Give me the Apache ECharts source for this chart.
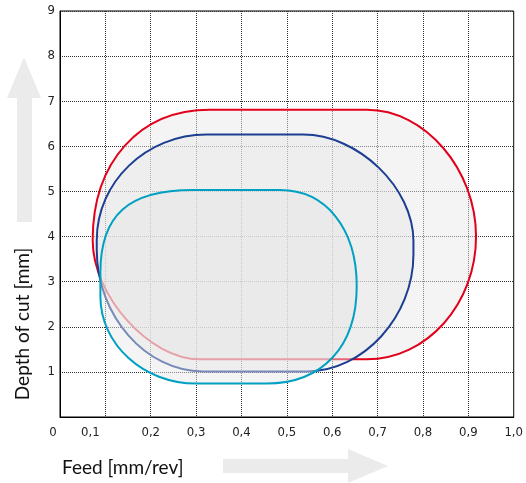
<!DOCTYPE html>
<html>
<head>
<meta charset="utf-8">
<script src="https://cdn.jsdelivr.net/npm/echarts@6/dist/echarts.min.js"></script>
<style>
  html, body { margin: 0; padding: 0; background: #fff; }
  #chart { width: 526px; height: 483px; }
</style>
</head>
<body>
<div id="chart"></div>
<script>
// tick labels
var xTickLabels = ['0', '0,1', '0,2', '0,3', '0,4', '0,5', '0,6', '0,7', '0,8', '0,9', '1,0'];
var yTickLabels = ['', '1', '2', '3', '4', '5', '6', '7', '8', '9'];

// working areas (red, blue, cyan)
// feed limits [mm/rev]
var feedMin = [0.072, 0.081, 0.089];
var feedMax = [0.917, 0.779, 0.654];
// depth of cut limits [mm]
var depthMin = [1.28, 1.01, 0.74];
var depthMax = [6.81, 6.26, 5.03];
// feed range where the top / bottom edge is flat
var topFlat = [[0.33, 0.677], [0.323, 0.536], [0.293, 0.485]];
var bottomFlat = [[0.308, 0.676], [0.315, 0.544], [0.30, 0.455]];
// depth range where the left / right edge is straight
var leftStraight = [[3.92, 3.92], [3.7, 3.92], [2.67, 3.2]];
var rightStraight = [[4.0, 4.0], [3.6, 3.9], [2.9, 2.9]];
// corner roundness: top-left, top-right, bottom-right, bottom-left
var cornerK = [[0.6, 0.53, 0.55, 0.47], [0.55, 0.5, 0.53, 0.54], [0.7, 0.6, 0.62, 0.55]];

var lineColors = ['#e3001b', '#1d3f92', '#00a0c3'];
var fillColor = 'rgba(230,230,230,0.45)';

function areaSeries(i) {
  return {
    type: 'custom',
    coordinateSystem: 'cartesian2d',
    silent: true,
    data: [[feedMin[i], depthMin[i]]],
    renderItem: function(params, api) {
      var L = feedMin[i], R = feedMax[i], B = depthMin[i], T = depthMax[i];
      var a = topFlat[i][0], b = topFlat[i][1], c = bottomFlat[i][0], d = bottomFlat[i][1];
      var lb = leftStraight[i][0], lt = leftStraight[i][1];
      var rb = rightStraight[i][0], rt = rightStraight[i][1];
      var k = cornerK[i];
      function P(x, y) { var p = api.coord([x, y]); return p[0].toFixed(2) + ' ' + p[1].toFixed(2); }
      var path = 'M' + P(a, T) + ' L' + P(b, T) +
        ' C' + P(b + k[1] * (R - b), T) + ' ' + P(R, rt + k[1] * (T - rt)) + ' ' + P(R, rt) +
        ' L' + P(R, rb) +
        ' C' + P(R, rb - k[2] * (rb - B)) + ' ' + P(d + k[2] * (R - d), B) + ' ' + P(d, B) +
        ' L' + P(c, B) +
        ' C' + P(c - k[3] * (c - L), B) + ' ' + P(L, lb - k[3] * (lb - B)) + ' ' + P(L, lb) +
        ' L' + P(L, lt) +
        ' C' + P(L, lt + k[0] * (T - lt)) + ' ' + P(a - k[0] * (a - L), T) + ' ' + P(a, T) + ' Z';
      return {
        type: 'path',
        shape: { pathData: path },
        style: { fill: fillColor, stroke: lineColors[i], lineWidth: 2 }
      };
    }
  };
}

var tickFont = { fontFamily: 'DejaVu Sans Condensed, Roboto, sans-serif', fontSize: 13, color: '#222' };

var myChart = echarts.init(document.getElementById('chart'));
var option = {
  animation: false,
  grid: { left: 60, right: 12, top: 11, bottom: 66, show: true, borderColor: '#000', borderWidth: 1 },
  xAxis: {
    type: 'value', min: 0, max: 1, interval: 0.1,
    axisLine: { show: true, lineStyle: { color: '#000' } },
    axisTick: { show: false },
    splitLine: { show: true, lineStyle: { color: '#333', type: [1, 1] } },
    axisLabel: Object.assign({
      margin: 9,
      formatter: function(v) {
        var i = Math.round(v * 10);
        if (i === 0) return '{a|' + xTickLabels[i] + '}';
        if (i === 1) return '{b|' + xTickLabels[i] + '}';
        return xTickLabels[i];
      },
      rich: {
        a: Object.assign({ padding: [0, 14, 0, 0] }, tickFont),
        b: Object.assign({ padding: [0, 30, 0, 0] }, tickFont)
      }
    }, tickFont)
  },
  yAxis: {
    type: 'value', min: 0, max: 9, interval: 1,
    axisLine: { show: true, lineStyle: { color: '#000' } },
    axisTick: { show: false },
    splitLine: { show: true, lineStyle: { color: '#333', type: [1, 1] } },
    axisLabel: Object.assign({
      margin: 5,
      formatter: function(v) { return yTickLabels[Math.round(v)]; }
    }, tickFont)
  },
  graphic: [
    { type: 'polygon', z: -1, shape: { points: [[17, 222], [32, 222], [32, 98], [41, 98], [24, 57], [7, 98], [17, 98]] }, style: { fill: '#ebebeb' } },
    { type: 'polygon', z: -1, shape: { points: [[223, 459], [348, 459], [348, 449], [388, 466], [348, 483], [348, 473], [223, 473]] }, style: { fill: '#ebebeb' } },
    { type: 'text', x: 62, y: 468, style: { text: 'Feed [mm/rev]', fontFamily: 'Lato', fontSize: 19, fill: '#111', verticalAlign: 'middle' } },
    { type: 'text', x: 23, y: 324, rotation: Math.PI / 2, style: { text: 'Depth of cut [mm]', fontFamily: 'Lato', fontSize: 19, fill: '#111', align: 'center', verticalAlign: 'middle' } }
  ],
  series: [areaSeries(0), areaSeries(1), areaSeries(2)]
};
myChart.setOption(option);
</script>
</body>
</html>
